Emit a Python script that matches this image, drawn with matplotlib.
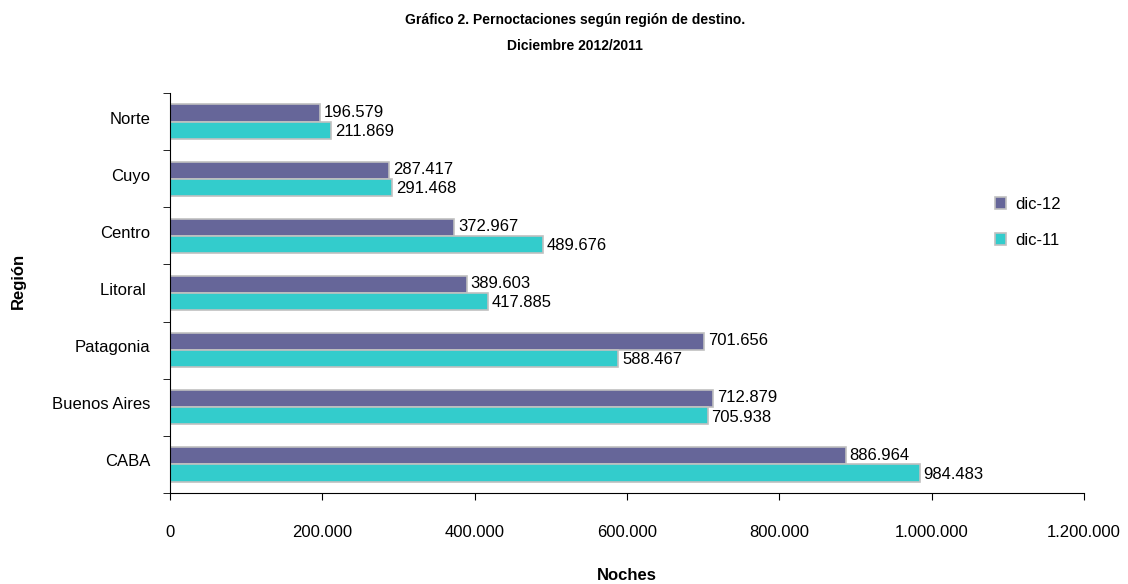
import matplotlib
matplotlib.use("Agg")
import matplotlib.pyplot as plt
import numpy as np
from matplotlib.ticker import FuncFormatter, FixedLocator

regions = ["Norte", "Cuyo", "Centro", "Litoral ", "Patagonia", "Buenos Aires", "CABA"]
dic12 = [196579, 287417, 372967, 389603, 701656, 712879, 886964]
dic11 = [211869, 291468, 489676, 417885, 588467, 705938, 984483]
series_names = ["dic-12", "dic-11"]
colors = ["#666699", "#33CCCC"]

plt.rcParams['font.family'] = ['Liberation Sans', 'DejaVu Sans']

fig = plt.figure(figsize=(11.28, 5.84), dpi=100)
ax = fig.add_axes([0.1507, 0.1558, 0.8103, 0.685])

n = len(regions)
y = np.arange(n)
h = 0.3
FS = 12
def fmt(v):
    return f"{int(v):,}".replace(",", ".")

b1 = ax.barh(y - h/2, dic12, height=h, color=colors[0], edgecolor="#c0c0c0", linewidth=1.2, label=series_names[0])
b2 = ax.barh(y + h/2, dic11, height=h, color=colors[1], edgecolor="#c0c0c0", linewidth=1.2, label=series_names[1])
for bars, vals, dy in ((b1, dic12, -0.015), (b2, dic11, 0.02)):
    for rect, v in zip(bars, vals):
        ax.text(v + 5000, rect.get_y() + rect.get_height()/2 + dy, fmt(v), va="center", ha="left", fontsize=FS)

ax.set_ylim(n - 0.5, -0.5)
ax.set_xlim(0, 1200000)
ax.set_yticks(y - 0.07)
ax.set_yticklabels(regions, fontsize=FS)
ax.yaxis.set_minor_locator(FixedLocator(np.arange(-0.5, n, 1.0)))
ax.tick_params(axis="y", which="major", length=0, pad=14)
ax.tick_params(axis="y", which="minor", length=5, direction="out")
ax.set_xticks(np.arange(0, 1200001, 200000))
ax.xaxis.set_major_formatter(FuncFormatter(lambda v, p: fmt(v)))
ax.tick_params(axis="x", length=5, direction="out", labelsize=FS, pad=18)

for s in ("top", "right"):
    ax.spines[s].set_visible(False)

ax.set_xlabel("Noches", fontsize=12, fontweight="bold", labelpad=20)
ax.set_ylabel("Región", fontsize=12, fontweight="bold")
ax.yaxis.set_label_coords(-0.158, 0.53)

fig.text(0.51, 0.965, "Gráfico 2. Pernoctaciones según región de destino.", ha="center", va="center", fontsize=10, fontweight="bold")
fig.text(0.51, 0.922, "Diciembre 2012/2011", ha="center", va="center", fontsize=10, fontweight="bold")

leg = ax.legend(loc="upper left", bbox_to_anchor=(0.886, 0.778), frameon=False, fontsize=FS,
                handlelength=0.7, handleheight=0.7, labelspacing=1.25, handletextpad=0.5)

fig.savefig("out.png", dpi=100)
